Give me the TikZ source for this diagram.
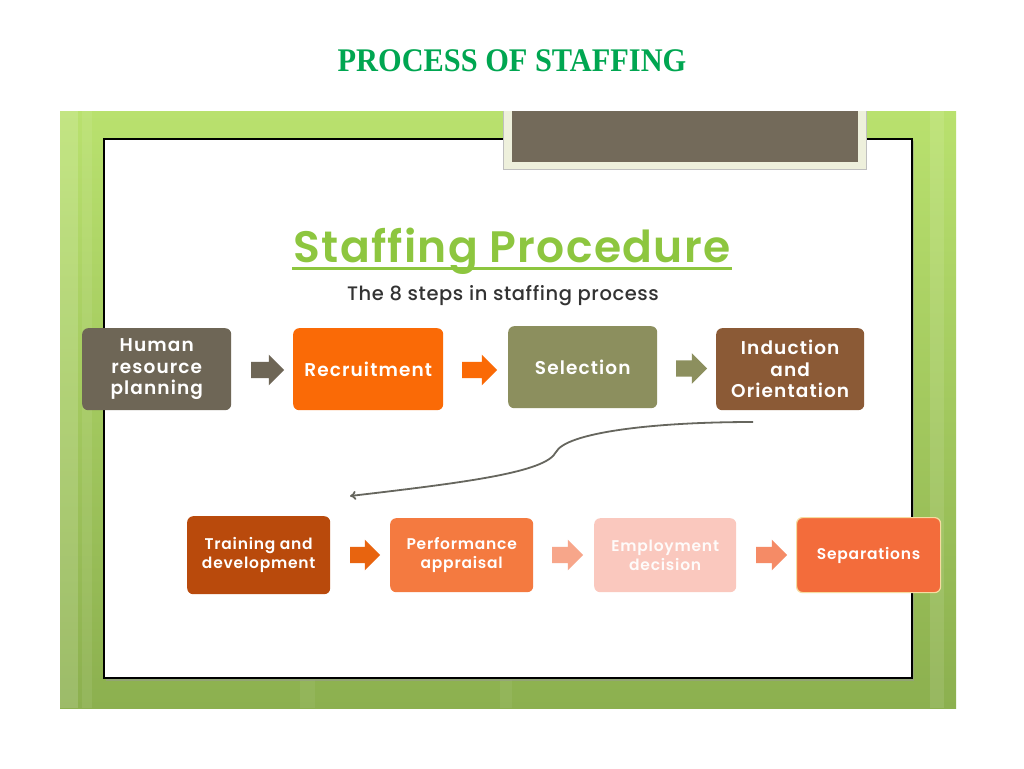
\documentclass[tikz,border=0pt]{standalone}
\usepackage{fontspec}
\setmainfont{Liberation Serif}
\newfontfamily\boxfont{Poppins}[UprightFont=* Medium,BoldFont=* SemiBold]
\usetikzlibrary{shapes.arrows,arrows.meta}
\definecolor{titlegreen}{HTML}{00A651}
\definecolor{limegreen}{HTML}{8DC63F}
\definecolor{bgtop}{HTML}{B9E16E}
\definecolor{bgbot}{HTML}{8CB04F}
\definecolor{tabfill}{HTML}{736A5A}
\definecolor{tabedge}{HTML}{EEF0DC}
\definecolor{chrp}{HTML}{6E6656}
\definecolor{crec}{HTML}{FA6A06}
\definecolor{csel}{HTML}{8C8F5E}
\definecolor{cind}{HTML}{8B5A36}
\definecolor{ctra}{HTML}{B94A0C}
\definecolor{cper}{HTML}{F47A40}
\definecolor{cemp}{HTML}{FAC8BE}
\definecolor{csep}{HTML}{F36C3B}
\definecolor{cseped}{HTML}{F6DCA0}
\definecolor{carA}{HTML}{E8640F}
\definecolor{carB}{HTML}{F7A68A}
\definecolor{carC}{HTML}{F58B66}
\definecolor{curvecol}{HTML}{66665E}
\tikzset{
  stepbox/.style={rectangle, rounded corners=6pt, draw=none, text=white,
    align=center, inner sep=0pt, anchor=north west},
  bigtext/.style={font=\boxfont\bfseries\addfontfeature{LetterSpace=6}\fontsize{18.5}{21.5}\selectfont},
  smalltext/.style={font=\boxfont\bfseries\addfontfeature{LetterSpace=5}\fontsize{15.5}{18.5}\selectfont},
  blockarrow/.style={single arrow, draw=none, inner xsep=0pt, inner ysep=8pt,
    minimum width=30pt, single arrow head indent=0pt, single arrow tip angle=90,
    anchor=center},
}
\begin{document}
\begin{tikzpicture}[x=1pt,y=-1pt]
\useasboundingbox (0,0) rectangle (1024,768);
\fill[white] (0,0) rectangle (1024,768);
% title
\node[font=\bfseries\fontsize{33}{36}\selectfont, text=titlegreen, xscale=0.92] (title) at (512,61) {PROCESS OF STAFFING};
% green background
\shade[top color=bgtop, bottom color=bgbot] (60,111) rectangle (956,708);
\fill[white, opacity=0.15] (60,111) rectangle (78,708);
\fill[white, opacity=0.08] (82,111) rectangle (92,708);
\fill[white, opacity=0.10] (930,111) rectangle (944,708);
\fill[white, opacity=0.06] (300,680) rectangle (315,708);
\fill[white, opacity=0.06] (500,680) rectangle (512,708);
% inner white panel
\fill[black!40, opacity=0.5] (106,141) rectangle (914,681);
\fill[white] (104,139) rectangle (912,678);
\draw[black, line width=1.4pt] (104,139) rectangle (912,678);
% tab
\fill[tabedge] (503,111) rectangle (866,169);
\draw[black!25, line width=0.6pt] (503,111) -- (503,169) -- (866,169) -- (866,111);
\fill[tabfill] (512,111) rectangle (858,162);
% heading
\node[font=\boxfont\bfseries\addfontfeature{LetterSpace=3}\fontsize{44}{48}\selectfont, text=limegreen, anchor=base] (head) at (512,262) {Staffing Procedure};
\fill[limegreen] (292,266.5) rectangle (732,270);
\node[font=\boxfont\addfontfeature{LetterSpace=3}\fontsize{19.5}{22}\selectfont, text=black!80, anchor=base] (sub) at (503,300) {The 8 steps in staffing process};
% row 1
\node[stepbox, bigtext, fill=chrp, minimum width=149pt, minimum height=82pt] (hrp) at (82,328) {Human\\resource\\planning};
\node[stepbox, bigtext, fill=crec, minimum width=150pt, minimum height=82pt] (rec) at (293,328) {Recruitment};
\node[stepbox, bigtext, fill=csel, minimum width=149pt, minimum height=82pt] (sel) at (508,326) {Selection};
\node[stepbox, bigtext, fill=cind, minimum width=148pt, minimum height=82pt] (ind) at (716,328) {Induction\\and\\Orientation};
\node[blockarrow, fill=chrp, minimum height=33pt] (ar1) at (263.5,370) {};
\node[blockarrow, fill=crec, minimum height=35pt] (ar2) at (475.5,370) {};
\node[blockarrow, fill=csel, minimum height=31pt] (ar3) at (687.5,368.5) {};
% row 2
\node[stepbox, smalltext, fill=ctra, minimum width=143pt, minimum height=78pt] (tra) at (187,516) {Training and\\development};
\node[stepbox, smalltext, fill=cper, minimum width=143pt, minimum height=74pt] (per) at (390,518) {Performance\\appraisal};
\node[stepbox, smalltext, fill=cemp, text=white!92!cemp, minimum width=142pt, minimum height=74pt] (emp) at (594,518) {Employment\\decision};
\node[stepbox, smalltext, fill=csep, draw=cseped, line width=1.2pt, minimum width=144pt, minimum height=75pt] (sep) at (796,517) {Separations};
\node[blockarrow, fill=carA, minimum height=30pt] (br1) at (361,555) {};
\node[blockarrow, fill=carB, minimum height=31pt] (br2) at (563.5,555) {};
\node[blockarrow, fill=carC, minimum height=31pt] (br3) at (767.5,555) {};
% curved connector
\coordinate (cstart) at (753,422);
\coordinate (cmid) at (556,452);
\coordinate (cend) at (350,496);
\draw[curvecol, line width=1.8pt, -{To[length=6pt,width=9pt]}]
  (cstart) .. controls (650,422) and (566,433) .. (cmid)
  .. controls (546,472) and (470,482) .. (cend);
\end{tikzpicture}
\end{document}
